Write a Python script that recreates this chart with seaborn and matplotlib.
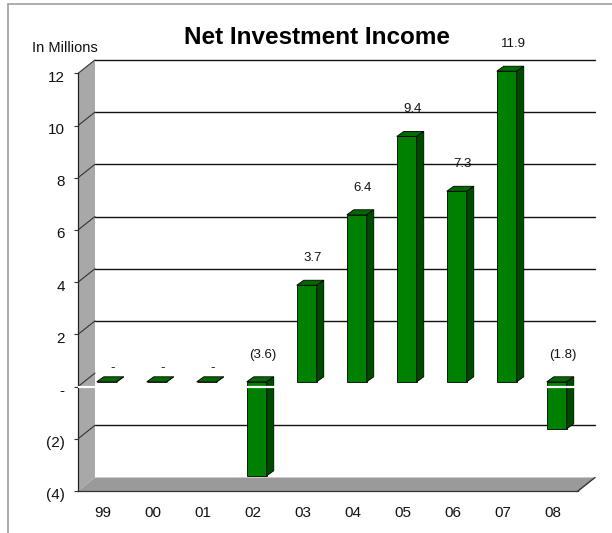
import matplotlib
matplotlib.use("Agg")
import matplotlib.pyplot as plt
from matplotlib.patches import Polygon
from matplotlib.lines import Line2D
from matplotlib.transforms import ScaledTranslation
import seaborn as sns
import pandas as pd

# ---- data ----
years = ["99", "00", "01", "02", "03", "04", "05", "06", "07", "08"]
values = [0.0, 0.0, 0.0, -3.6, 3.7, 6.4, 9.4, 7.3, 11.9, -1.8]
ytick_vals = [-4, -2, 0, 2, 4, 6, 8, 10, 12]
ytick_labels = ["(4)", "(2)", "-", "2", "4", "6", "8", "10", "12"]
title = "Net Investment Income"
unit_label = "In Millions"

df = pd.DataFrame({"year": years, "value": values})

sns.set_style("white")
plt.rcParams["font.family"] = ["Liberation Sans", "DejaVu Sans"]

W, H = 612, 533
fig = plt.figure(figsize=(W / 100, H / 100), dpi=100)

# axes placement in pixels
L, R, T, B = 78, 600, 40, 491
ax = fig.add_axes([L / W, 1 - B / H, (R - L) / W, (B - T) / H])

PX_CAT = 50.0
PX_UNIT = 26.1
ymin = -4
ymax = ymin + (B - T) / PX_UNIT
xmin = -0.5
xmax = xmin + (R - L) / PX_CAT

# depth of the wall (back plane offset) and bar geometry
DX, DY = 17 / PX_CAT, 13.5 / PX_UNIT
BX, BY = 3.75 / PX_CAT, 4.8 / PX_UNIT
BW = 20 / PX_CAT
BDX, BDY = 7 / PX_CAT, 5 / PX_UNIT

green = "#008000"
green_side = "#004a00"
green_top = "#006a00"

sns.barplot(data=df, x="year", y="value", ax=ax, color=green, width=BW,
            edgecolor="black", linewidth=0.6, saturation=1, zorder=3)
bars = list(ax.patches)

ax.set_xlim(xmin, xmax)
ax.set_ylim(ymin, ymax)

n = len(years)
x_left, x_right = -0.5, n - 0.5
ytop = max(ytick_vals)

# left wall
ax.add_patch(Polygon([(x_left, ymin), (x_left, ytop), (x_left + DX, ytop + DY),
                      (x_left + DX, ymin + DY)], closed=True,
                     facecolor="#a8a8a8", edgecolor="none", zorder=1))
# floor
ax.add_patch(Polygon([(x_left, ymin), (x_right, ymin), (x_right + DX, ymin + DY),
                      (x_left + DX, ymin + DY)], closed=True,
                     facecolor="#9a9a9a", edgecolor="none", zorder=1))
ax.plot([x_right, x_right + DX], [ymin, ymin + DY], color="#333333", lw=1.0, zorder=2)

# back wall gridlines and wall diagonals
for v in ytick_vals:
    if v == ymin:
        continue
    if v != 0:
        ax.plot([x_left + DX, x_right + DX], [v + DY, v + DY], color="#111111",
                lw=1.0, zorder=1.5)
    ax.plot([x_left, x_left + DX], [v, v + DY], color="#333333", lw=0.8, zorder=1.5)

# 3D bar faces
for p, v in zip(bars, values):
    p.set_x(p.get_x() + BX)
    p.set_y(p.get_y() + BY)
    x0 = p.get_x()
    x1 = x0 + p.get_width()
    lo = BY + min(v, 0)
    hi = BY + max(v, 0)
    ax.add_patch(Polygon([(x0, hi), (x1, hi), (x1 + BDX, hi + BDY), (x0 + BDX, hi + BDY)],
                         closed=True, facecolor=green_top, edgecolor="black",
                         lw=0.6, zorder=3))
    ax.add_patch(Polygon([(x1, lo), (x1, hi), (x1 + BDX, hi + BDY), (x1 + BDX, lo + BDY)],
                         closed=True, facecolor=green_side, edgecolor="black",
                         lw=0.6, zorder=3))

# white zero line on front plane
ax.plot([x_left, x_right], [0, 0], color="white", lw=1.6, zorder=4,
        solid_capstyle="butt")

# data labels
for i, v in enumerate(values):
    if v > 0:
        txt = f"{v:.1f}"
        y = BY + v + 27 / PX_UNIT
    elif v < 0:
        txt = f"({abs(v):.1f})"
        y = BY + 27 / PX_UNIT
    else:
        txt = "-"
        y = BY + 14 / PX_UNIT
    ax.text(i + 10 / PX_CAT, y, txt, ha="center", va="center", fontsize=9.5,
            color="#111111", clip_on=False, zorder=5)

# axes styling
for s in ["top", "right"]:
    ax.spines[s].set_visible(False)
ax.spines["left"].set_bounds(ymin, ytop)
ax.spines["left"].set_color("#222222")
ax.spines["left"].set_linewidth(0.9)
ax.spines["bottom"].set_bounds(x_left, x_right)
ax.spines["bottom"].set_color("#333333")
ax.spines["bottom"].set_linewidth(0.9)
ax.set_yticks(ytick_vals, ytick_labels)
ax.set_xlabel("")
ax.set_ylabel("")
ax.tick_params(axis="y", left=True, length=3, width=0.8, color="#333333",
               pad=6.5, labelsize=11, labelcolor="#111111")
ax.tick_params(axis="x", bottom=False, length=0, pad=11, labelsize=11,
               labelcolor="#111111")
shift = ScaledTranslation(0, -3 / 100, fig.dpi_scale_trans)
for lab in ax.get_yticklabels():
    lab.set_transform(lab.get_transform() + shift)
ax.patch.set_alpha(0)
ax.grid(False)

# titles
fig.text(317 / W, 1 - 37.5 / H, title, ha="center", va="center", fontsize=17.5,
         fontweight="bold", color="black")
fig.text(32 / W, 1 - 47.5 / H, unit_label, ha="left", va="center", fontsize=10.5,
         color="#111111")

# frame lines (top and left)
fig.add_artist(Line2D([8 / W, 1], [1 - 4 / H, 1 - 4 / H], color="#a0a0a0", lw=1.2))
fig.add_artist(Line2D([8 / W, 8 / W], [-0.01, 1 - 4 / H], color="#a0a0a0", lw=1.2))

fig.savefig("out.png", dpi=100)
